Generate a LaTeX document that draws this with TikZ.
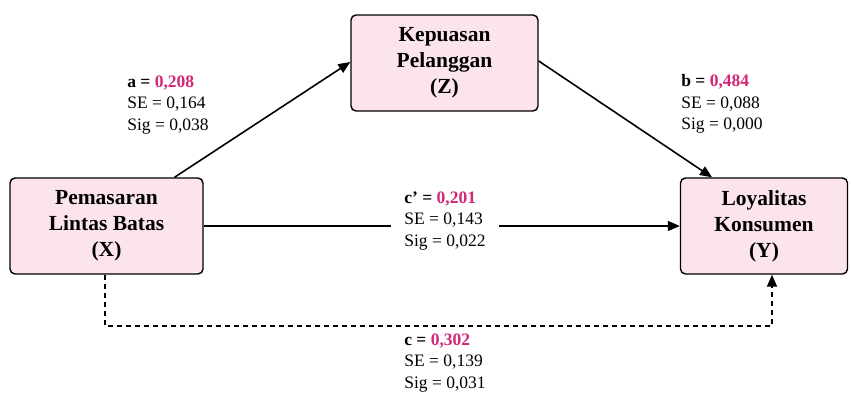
\documentclass[tikz,border=0pt]{standalone}
\usepackage{fontspec}
\setmainfont{Liberation Serif}
\usepackage{xcolor}
\usetikzlibrary{positioning, arrows.meta}

\definecolor{boxpink}{RGB}{252,228,236}
\definecolor{valpink}{RGB}{212,38,118}

\begin{document}
\begin{tikzpicture}[
				% one unit = one pixel of the target, y running downwards
				x=1pt, y=-1pt,
				box/.style={
					rectangle, 
					draw, 
					rounded corners=5pt, 
					align=center, 
					minimum height=96pt, 
					fill=boxpink,
					line width=1.4pt,
					font=\fontsize{21.5}{26}\selectfont\bfseries
				},
				arrow/.style={-{Triangle[length=12pt,width=10pt]}, line width=1.6pt},
				dasharrow/.style={arrow, dash pattern=on 5pt off 4pt},
				coef/.style={align=left, inner sep=2pt, font=\fontsize{17.5}{21.5}\selectfont}
				]
				
				\useasboundingbox (0,0) rectangle (851,394);
				
				% --- 1. Variables ---
				\node[box, minimum width=193pt] (X) at (106.5,226) {Pemasaran\\Lintas Batas\\(X)};
				\node[box, minimum width=187pt] (Z) at (444.5,63) {Kepuasan\\Pelanggan\\(Z)};
				\node[box, minimum width=167pt] (Y) at (764,226) {Loyalitas\\Konsumen\\(Y)};
				
				% --- 2. Paths ---
				\draw[arrow] ([xshift=68pt]X.north) -- ([yshift=1pt]Z.west);
				\draw[arrow] ([yshift=2pt]Z.east) -- ([xshift=-52pt]Y.north);
				\draw[arrow] (X) -- (Y);
				
				% total effect, dashed round the bottom
				\draw[dasharrow] ([xshift=-1.5pt]X.south) -- ++(0,51) -| ([xshift=8pt]Y.south);
				
				% --- 3. Coefficients ---
				\node[coef] (acoef) at (168,105) {\textbf{a = \textcolor{valpink}{0,208}}\\SE = 0,164\\Sig = 0,038};
				\node[coef] (bcoef) at (722,104) {\textbf{b = \textcolor{valpink}{0,484}}\\SE = 0,088\\Sig = 0,000};
				
				% white fill breaks the direct path line
				\node[coef, fill=white, inner xsep=13pt] (cprime) at (445,221) {\textbf{c’ = \textcolor{valpink}{0,201}}\\SE = 0,143\\Sig = 0,022};
				\node[coef] (ccoef) at (445,363) {\textbf{c = \textcolor{valpink}{0,302}}\\SE = 0,139\\Sig = 0,031};
				
			\end{tikzpicture}
\end{document}
